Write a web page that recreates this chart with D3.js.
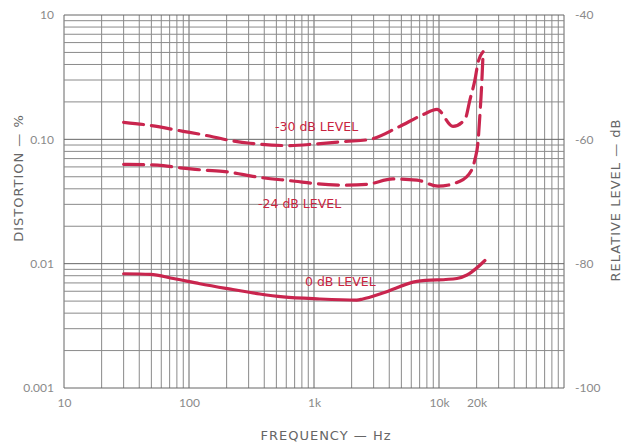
<!DOCTYPE html>
<html><head><meta charset="utf-8">
<script src="https://cdn.jsdelivr.net/npm/d3@7"></script>
<style>body{margin:0;background:#fff;} svg{display:block;}</style>
</head><body>
<svg id="c" width="623" height="443"></svg>
<script>
// ---- data ----
const xTickValues = [10, 100, 1000, 10000, 20000];
const xTickLabels = ["10", "100", "1k", "10k", "20k"];
const yTickValues = [1, 0.1, 0.01, 0.001];
const yTickLabels = ["10", "0.10", "0.01", "0.001"];
const dbTickValues = [-40, -60, -80, -100];
const dbTickLabels = ["-40", "-60", "-80", "-100"];

const freq30 = [30, 50, 90, 122, 213, 307, 643, 1057, 1770, 2805, 4700, 7450, 9640, 12940, 16140, 17700, 19400, 20500, 22500];
const dist30 = [0.137, 0.129, 0.116, 0.110, 0.098, 0.093, 0.089, 0.092, 0.096, 0.100, 0.125, 0.158, 0.174, 0.127, 0.145, 0.209, 0.302, 0.413, 0.506];

const freq24 = [30, 56, 85, 129, 194, 356, 705, 1020, 1837, 2655, 4285, 6670, 9800, 14700, 18370, 19400, 20500, 21300, 21700, 22500];
const dist24 = [0.063, 0.062, 0.059, 0.0566, 0.055, 0.0497, 0.046, 0.044, 0.0428, 0.0435, 0.048, 0.047, 0.042, 0.046, 0.0574, 0.0692, 0.0945, 0.164, 0.221, 0.478];

const freq0 = [30, 49, 75, 122, 224, 369, 566, 1110, 2200, 2460, 3550, 6670, 13900, 16750, 23300];
const dist0 = [0.0083, 0.0082, 0.0076, 0.0069, 0.0062, 0.0057, 0.0054, 0.0052, 0.0051, 0.0052, 0.0058, 0.0072, 0.0076, 0.0081, 0.0106];

const seriesNames = ["-30 dB LEVEL", "-24 dB LEVEL", "0 dB LEVEL"];

// ---- layout ----
const L = 64, R = 564, T = 15, B = 388;
const svg = d3.select("#c");
const x = d3.scaleLog().domain([10, 100000]).range([L, R]);
const y = d3.scaleLog().domain([0.001, 1]).range([B, T]);
const yDb = d3.scaleLinear().domain([-100, -40]).range([B, T]);

// grid
const gx = [], gy = [];
for (let d = 10; d < 100000; d *= 10) for (let k = 1; k <= 9; k++) gx.push(d * k);
gx.push(100000);
for (let d = 0.001; d < 0.99; d *= 10) for (let k = 1; k <= 9; k++) gy.push(d * k);
gy.push(1);
const isMajor = d => Math.abs(Math.log10(d) - Math.round(Math.log10(d))) < 1e-6;
const grid = svg.append("g");
grid.selectAll("line.vx").data(gx).join("line")
  .attr("x1", d => x(d)).attr("x2", d => x(d)).attr("y1", T).attr("y2", B)
  .attr("stroke", d => isMajor(d) ? "#666" : "#8a8a8a")
  .attr("stroke-width", 1);
grid.selectAll("line.hy").data(gy).join("line")
  .attr("x1", L).attr("x2", R).attr("y1", d => y(d)).attr("y2", d => y(d))
  .attr("stroke", d => isMajor(d) ? "#666" : "#8a8a8a")
  .attr("stroke-width", 1);

// axes
const tickFont = "Lato, 'Liberation Sans', sans-serif";
const xAxis = d3.axisBottom(x).tickValues(xTickValues).tickSize(0).tickPadding(10)
  .tickFormat((d, i) => xTickLabels[i]);
svg.append("g").attr("transform", `translate(0,${B})`).call(xAxis)
  .call(g => g.select(".domain").remove())
  .selectAll("text").attr("fill", "#8a8a8a").style("font", `12px ${tickFont}`);

const yAxis = d3.axisLeft(y).tickValues(yTickValues).tickSize(0).tickPadding(10)
  .tickFormat((d, i) => yTickLabels[i]);
svg.append("g").attr("transform", `translate(${L},0)`).call(yAxis)
  .call(g => g.select(".domain").remove())
  .selectAll("text").attr("fill", "#8a8a8a").style("font", `12px ${tickFont}`);

const dbAxis = d3.axisRight(yDb).tickValues(dbTickValues).tickSize(0).tickPadding(11)
  .tickFormat((d, i) => dbTickLabels[i]);
svg.append("g").attr("transform", `translate(${R},0)`).call(dbAxis)
  .call(g => g.select(".domain").remove())
  .selectAll("text").attr("fill", "#8a8a8a").style("font", `12px ${tickFont}`);

// axis titles
const titleFont = "'DejaVu Sans', sans-serif";
svg.append("text").attr("x", 326).attr("y", 440).attr("text-anchor", "middle")
  .attr("fill", "#666").style("font", `13px ${titleFont}`).style("letter-spacing", "1px")
  .text("FREQUENCY — Hz");
svg.append("text").attr("transform", "translate(23,178) rotate(-90)").attr("text-anchor", "middle")
  .attr("fill", "#666").style("font", `13px ${titleFont}`).style("letter-spacing", "1px")
  .text("DISTORTION — %");
svg.append("text").attr("transform", "translate(620,200) rotate(-90)").attr("text-anchor", "middle")
  .attr("fill", "#666").style("font", `13px ${titleFont}`).style("letter-spacing", "1px")
  .text("RELATIVE LEVEL — dB");

// curves
const line = d3.line().x(d => x(d[0])).y(d => y(d[1])).curve(d3.curveMonotoneX);
const curves = [
  {f: freq30, v: dist30, dash: "20,8"},
  {f: freq24, v: dist24, dash: "20,8"},
  {f: freq0, v: dist0, dash: null}
];
const red = "#c9254e";
curves.forEach(c => {
  const pts = c.f.map((f, i) => [f, c.v[i]]);
  svg.append("path").datum(pts).attr("d", line)
    .attr("fill", "none").attr("stroke", red).attr("stroke-width", 3.2)
    .attr("stroke-linecap", "round")
    .attr("stroke-dasharray", c.dash);
});

// curve labels
const labelPos = [[275, 131], [258, 208], [305, 286]];
seriesNames.forEach((n, i) => {
  svg.append("text").attr("x", labelPos[i][0]).attr("y", labelPos[i][1])
    .attr("fill", "#c8243f").style("font", `12.5px ${titleFont}`).text(n);
});
</script>
</body></html>
